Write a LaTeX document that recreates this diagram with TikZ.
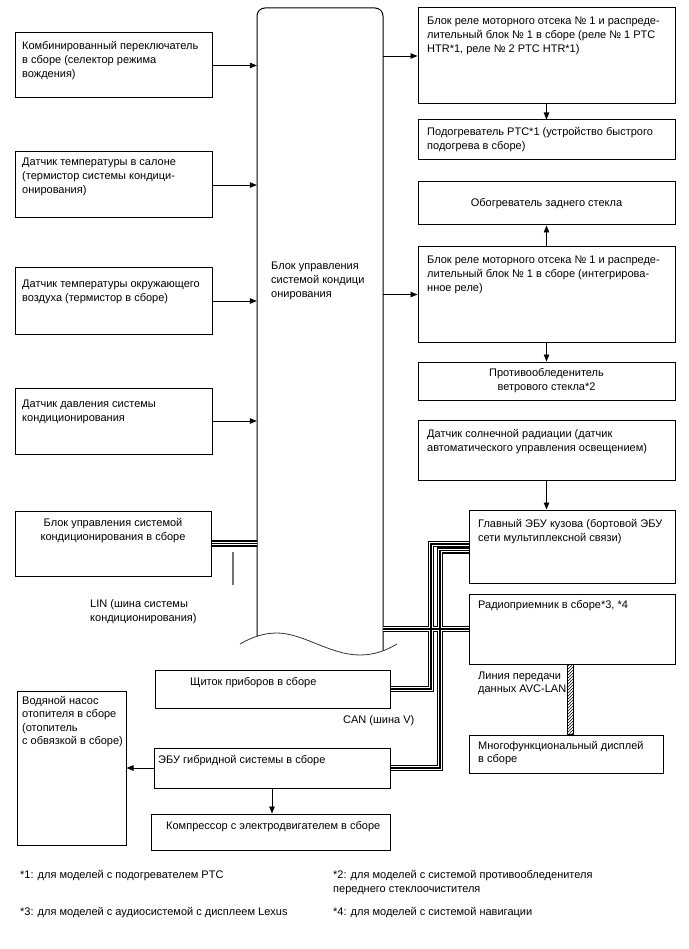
\documentclass[tikz,border=0pt]{standalone}
\usepackage{fontspec}
\setmainfont{Liberation Sans}
\usetikzlibrary{arrows.meta,fit,patterns}
\tikzset{
 box/.style={draw, line width=1pt, inner sep=0pt},
 txt/.style={anchor=north west, align=left, inner sep=0pt},
 ctxt/.style={anchor=center, align=center, inner sep=0pt},
 arr/.style={line width=0.8pt, -{Triangle[length=7pt,width=5.5pt]}},
}
\newcommand\bx[5]{\node[box, fit={(#2,#3)(#4,#5)}] (#1) {};}
\newcommand\tx[4]{\node[txt] (#1) at ({#2},{#3-4}) {#4};}
\newcommand\busdraw[1]{%
 \draw[line width=6.4pt] #1;
 \draw[line width=3.8pt, white] #1;
 \draw[line width=1.8pt] #1;}
\begin{document}
\begin{tikzpicture}[x=1pt,y=-1pt,font=\fontsize{11}{14}\selectfont]
\useasboundingbox (0,0) rectangle (688,949);
% left column
\bx{b1}{15}{33}{212}{98}
\tx{t1}{22}{45}{Комбинированный переключатель\\в сборе (селектор режима\\вождения)}
\bx{b2}{15}{152}{212}{218}
\tx{t2}{22}{162}{Датчик температуры в салоне\\(термистор системы кондици-\\онирования)}
\bx{b3}{15}{268}{212}{334}
\tx{t3}{22}{284}{Датчик температуры окружающего\\воздуха (термистор в сборе)}
\bx{b4}{15}{388}{212}{454}
\tx{t4}{22}{404}{Датчик давления системы\\кондиционирования}
\bx{b5}{15}{511}{211}{576}
\node[anchor=north, align=center, inner sep=0pt] (t5) at (113,{522-4}) {Блок управления системой\\кондиционирования в сборе};
\node[txt] (linl) at (90,{603-4}) {LIN (шина системы\\кондиционирования)};
\coordinate (lt1) at (233,552);
\coordinate (lt2) at (233,585);
\draw[black!55, line width=1.8pt] (lt1) -- (lt2);
% central block
\node[inner sep=0pt, fit={(257,8)(383,640)}] (cb) {};
\draw[line width=1pt, rounded corners=8pt] (257,636) -- (257,8) -- (383,8) -- (383,650.5);
\draw[line width=0.8pt, black!80] (240,644) .. controls (252,637) and (264,633) .. (277,633)
  .. controls (303,633) and (330,655) .. (360,655) .. controls (375,655) and (387,650) .. (397,644);
\tx{tc}{271}{266}{Блок управления\\системой кондици\\онирования}
% right column
\bx{r1}{418}{8}{675}{104}
\tx{tr1}{427}{21}{Блок реле моторного отсека № 1 и распреде-\\лительный блок № 1 в сборе (реле № 1 PTC\\HTR*1, реле № 2 PTC HTR*1)}
\bx{r2}{418}{120}{675}{160}
\tx{tr2}{427}{131}{Подогреватель PTC*1 (устройство быстрого\\подогрева в сборе)}
\bx{r3}{418}{182}{675}{225}
\node[ctxt] (tr3) at (r3.center) {Обогреватель заднего стекла};
\bx{r4}{418}{247}{675}{342}
\tx{tr4}{427}{260}{Блок реле моторного отсека № 1 и распреде-\\лительный блок № 1 в сборе (интегрирова-\\нное реле)}
\bx{r5}{418}{362}{675}{400}
\node[ctxt] (tr5) at (r5.center) {Противообледенитель\\ветрового стекла*2};
\bx{r6}{418}{420}{675}{480}
\tx{tr6}{427}{433}{Датчик солнечной радиации (датчик\\автоматического управления освещением)}
\bx{r7}{469}{510}{675}{583}
\tx{tr7}{478}{523}{Главный ЭБУ кузова (бортовой ЭБУ\\сети мультиплексной связи)}
\bx{r8}{469}{594}{675}{664}
\tx{tr8}{478}{604}{Радиоприемник в сборе*3, *4}
\node[txt, font=\fontsize{11}{13}\selectfont] (avcl) at (478,{676-4}) {Линия передачи\\данных AVC-LAN};
\bx{r9}{469}{735}{663}{773}
\node[txt, font=\fontsize{11}{13}\selectfont] (tr9) at (478,{745-4}) {Многофункциональный дисплей\\в сборе};
\coordinate (avcL) at (567,0);
\coordinate (avcR) at (573,0);
\draw[line width=0.5pt, pattern=north east lines] (r8.south -| avcL) rectangle (r9.north -| avcR);
% bottom
\bx{sh}{155}{670}{390}{708}
\tx{tsh}{190}{681}{Щиток приборов в сборе}
\tx{canl}{343}{719}{CAN (шина V)}
\bx{eb}{154}{748}{390}{788}
\tx{teb}{158}{759}{ЭБУ гибридной системы в сборе}
\bx{wp}{17}{691}{126}{845}
\node[txt, font=\fontsize{11}{13.5}\selectfont] (twp) at (22,{700-4}) {Водяной насос\\отопителя в сборе\\(отопитель\\с обвязкой в сборе)};
\bx{cp}{151}{814}{390}{850}
\tx{tcp}{166}{825}{Компрессор с электродвигателем в сборе}
% footnotes
\tx{f1}{20}{874}{*1: для моделей с подогревателем PTC}
\tx{f2}{333}{874}{*2: для моделей с системой противообледенителя\\переднего стеклоочистителя}
\tx{f3}{20}{911}{*3: для моделей с аудиосистемой с дисплеем Lexus}
\tx{f4}{333}{911}{*4: для моделей с системой навигации}
% arrows
\draw[arr] (b1.east) -- (b1.east -| cb.west);
\draw[arr] (b2.east) -- (b2.east -| cb.west);
\draw[arr] (b3.east) -- (b3.east -| cb.west);
\draw[arr] (b4.east) -- (b4.east -| cb.west);
\draw[arr] (r1.west -| cb.east) -- (r1.west);
\draw[arr] (r4.west -| cb.east) -- (r4.west);
\draw[arr] (r1.south) -- (r2.north);
\draw[arr] (r4.north) -- (r3.south);
\draw[arr] (r4.south) -- (r5.north);
\draw[arr] (r6.south) -- (r6.south |- r7.north);
\draw[arr] (eb.west) -- (eb.west -| wp.east);
\draw[arr] (eb.south) -- (eb.south |- cp.north);
% buses
\coordinate (ax) at (431,0);
\coordinate (bxx) at (440,0);
\busdraw{(b5.east) -- (b5.east -| cb.west)}
\busdraw{([yshift=2.5pt]r7.west) -| (sh.east -| ax) -- (sh.east) ([yshift=-4pt]r7.west) -| (eb.east -| bxx) -- (eb.east) (cb.east |- r8.west) -- (r8.west)}
\end{tikzpicture}
\end{document}
